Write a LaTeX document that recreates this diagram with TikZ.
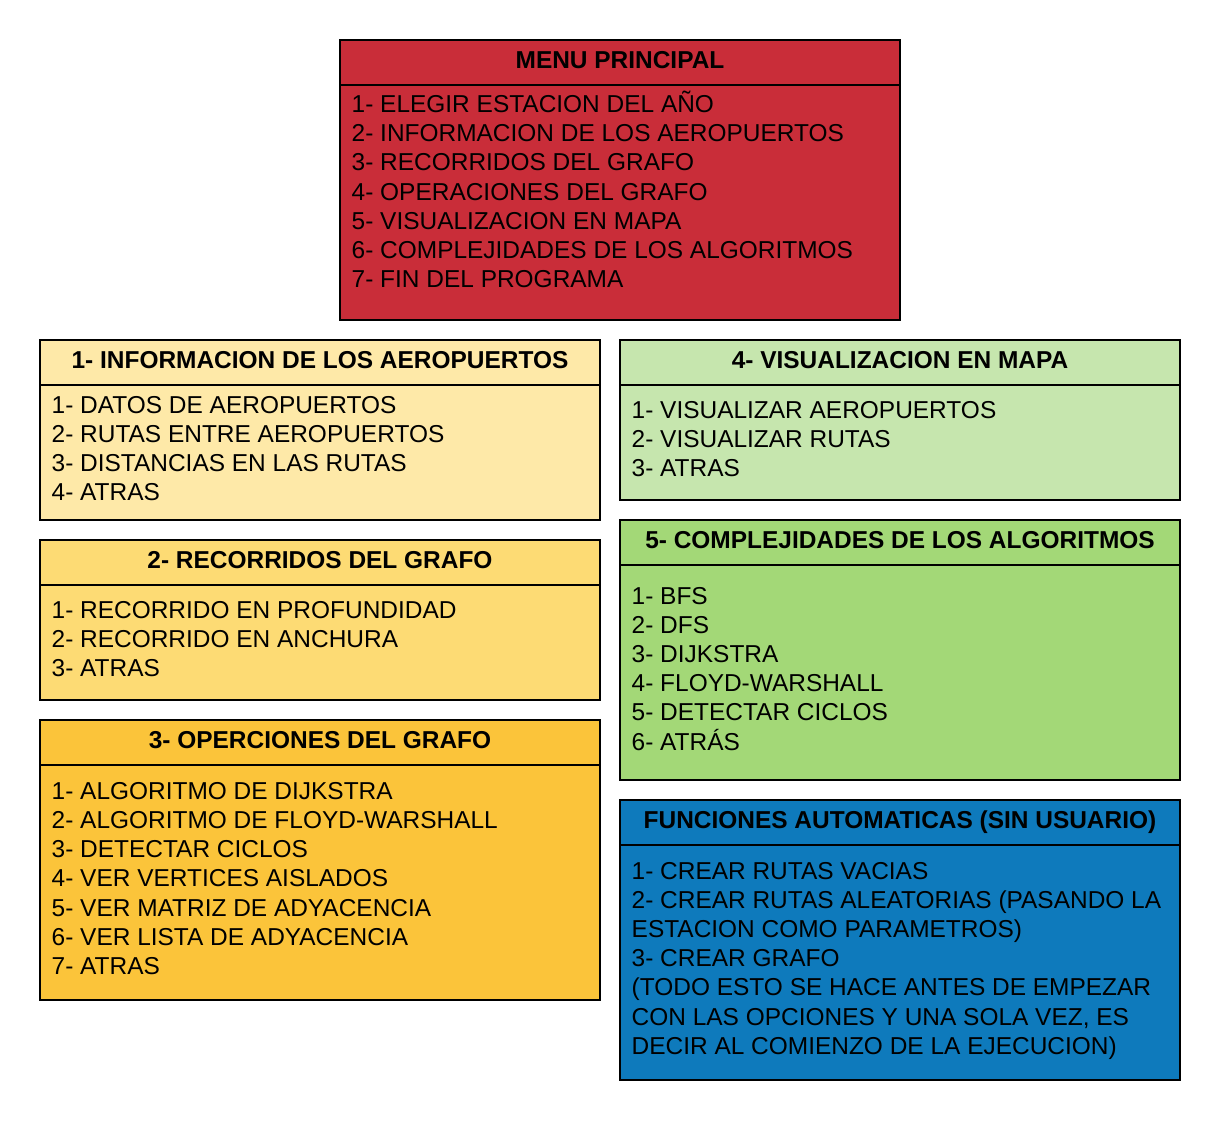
\documentclass[tikz,border=0pt]{standalone}
\usepackage{fontspec}
\setmainfont{Liberation Sans}
\usetikzlibrary{calc}

\definecolor{menured}{HTML}{C92D39}
\definecolor{paleyellow}{HTML}{FEE9A8}
\definecolor{midyellow}{HTML}{FDDB74}
\definecolor{deepyellow}{HTML}{FBC43A}
\definecolor{palegreen}{HTML}{C6E6AE}
\definecolor{midgreen}{HTML}{A3D877}
\definecolor{deepblue}{HTML}{0E7ABC}

% a comma that does not split a \foreach list
\newcommand\listcomma{,}

\tikzset{
  panel/.style={draw=black, line width=2pt, rectangle, inner sep=0pt, outer sep=0pt,
                minimum width=560pt},
  panelhead/.style={panel, minimum height=44.5pt},
  paneltitle/.style={anchor=base, inner sep=0pt, font=\fontsize{24.45}{29}\selectfont\bfseries},
  panelitem/.style={anchor=base west, inner sep=0pt},
}

% #1 name, #2 left x, #3 top y, #4 height, #5 fill, #6 title,
% #7 first baseline, #8 list of lines
\newcommand\optionpanel[8]{%
  \node[panel, fill=#5, minimum height=#4pt, anchor=north west] (#1) at (#2,#3) {};
  \node[panelhead, fill=#5, anchor=north west] (#1-head) at (#2,#3) {};
  \node[paneltitle] (#1-title) at ($(#1-head.north)+(0,28)$) {#6};
  \foreach \t [count=\i] in {#8} {
    \node[panelitem] (#1-\i) at ({#2+11.5},{#7+(\i-1)*29.2}) {\t};
  }
}

\begin{document}
\begin{tikzpicture}[x=1pt, y=-1pt, font=\fontsize{24.45}{29}\selectfont]
  \useasboundingbox (0,0) rectangle (1220,1120);
  \fill[white] (0,0) rectangle (1220,1120);

  \optionpanel{menu}{340}{40}{280}{menured}{MENU PRINCIPAL}{112.5}{
    1- ELEGIR ESTACION DEL AÑO,
    2- INFORMACION DE LOS AEROPUERTOS,
    3- RECORRIDOS DEL GRAFO,
    4- OPERACIONES DEL GRAFO,
    5- VISUALIZACION EN MAPA,
    6- COMPLEJIDADES DE LOS ALGORITMOS,
    7- FIN DEL PROGRAMA}

  \optionpanel{info}{40}{340}{180}{paleyellow}{1- INFORMACION DE LOS AEROPUERTOS}{413.3}{
    1- DATOS DE AEROPUERTOS,
    2- RUTAS ENTRE AEROPUERTOS,
    3- DISTANCIAS EN LAS RUTAS,
    4- ATRAS}

  \optionpanel{reco}{40}{540}{160}{midyellow}{2- RECORRIDOS DEL GRAFO}{618.3}{
    1- RECORRIDO EN PROFUNDIDAD,
    2- RECORRIDO EN ANCHURA,
    3- ATRAS}

  \optionpanel{oper}{40}{720}{280}{deepyellow}{3- OPERCIONES DEL GRAFO}{799.3}{
    1- ALGORITMO DE DIJKSTRA,
    2- ALGORITMO DE FLOYD-WARSHALL,
    3- DETECTAR CICLOS,
    4- VER VERTICES AISLADOS,
    5- VER MATRIZ DE ADYACENCIA,
    6- VER LISTA DE ADYACENCIA,
    7- ATRAS}

  \optionpanel{mapa}{620}{340}{160}{palegreen}{4- VISUALIZACION EN MAPA}{418.3}{
    1- VISUALIZAR AEROPUERTOS,
    2- VISUALIZAR RUTAS,
    3- ATRAS}

  \optionpanel{comp}{620}{520}{260}{midgreen}{5- COMPLEJIDADES DE LOS ALGORITMOS}{604}{
    1- BFS,
    2- DFS,
    3- DIJKSTRA,
    4- FLOYD-WARSHALL,
    5- DETECTAR CICLOS,
    6- ATRÁS}

  % a line opening with a parenthesis gets an empty group first,
  % so \foreach does not read it as a coordinate
  \optionpanel{auto}{620}{800}{280}{deepblue}{FUNCIONES AUTOMATICAS (SIN USUARIO)}{879}{
    1- CREAR RUTAS VACIAS,
    2- CREAR RUTAS ALEATORIAS (PASANDO LA,
    ESTACION COMO PARAMETROS),
    3- CREAR GRAFO,
    {}(TODO ESTO SE HACE ANTES DE EMPEZAR,
    CON LAS OPCIONES Y UNA SOLA VEZ\listcomma{} ES,
    DECIR AL COMIENZO DE LA EJECUCION)}
\end{tikzpicture}
\end{document}
